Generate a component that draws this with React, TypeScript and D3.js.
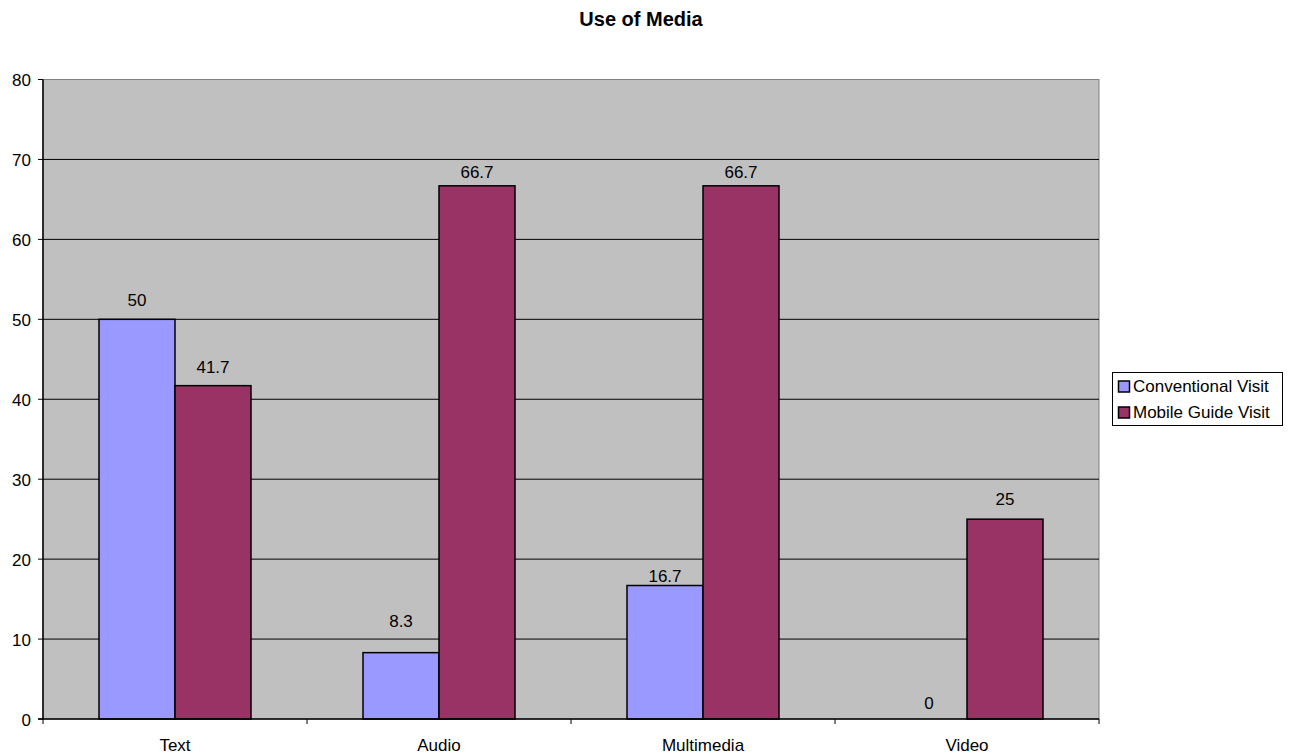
import React from "react";
import * as d3 from "d3";

const categories = ["Text", "Audio", "Multimedia", "Video"];
const seriesNames = ["Conventional Visit", "Mobile Guide Visit"];
const conventional = [50, 8.3, 16.7, 0];
const mobileGuide = [41.7, 66.7, 66.7, 25];
const yTicks = [0, 10, 20, 30, 40, 50, 60, 70, 80];
const colors = ["#9999FF", "#993366"];

export default function App() {
  const W = 1294, H = 755;
  const left = 43, right = 1099, top = 79.5, bottom = 719;
  const x0 = d3.scaleBand().domain(categories).range([left, right]).paddingInner(0).paddingOuter(0);
  const y = d3.scaleLinear().domain([0, 80]).range([bottom, top]);
  const bw = 76;
  const series = [conventional, mobileGuide];
  // label gap above bar top (layout detail, per series/category as in the original)
  const labelGap = [
    [13, 26, 3.5, 10],
    [13, 8, 8, 14],
  ];
  const font = "Liberation Sans, Arial, sans-serif";
  const fs = 17;
  return (
    <svg width={W} height={H} style={{ position: "absolute", left: 0, top: 0 }} fontFamily={font}>
      <text x={641} y={26} textAnchor="middle" fontSize={20} fontWeight="bold">Use of Media</text>
      <rect x={left} y={top} width={right - left} height={bottom - top} fill="#C0C0C0" stroke="#808080" strokeWidth={1} />
      {yTicks.filter(t => t > 0 && t < 80).map(t => (
        <line key={t} x1={left} x2={right} y1={y(t)} y2={y(t)} stroke="#000" strokeWidth={1} />
      ))}
      {categories.map((c, i) => {
        const cx = x0(c)! + x0.bandwidth() / 2;
        return series.map((s, j) => {
          const bx = cx - bw + j * bw;
          const v = s[i];
          return (
            <g key={c + j}>
              {v > 0 && (
                <rect x={bx} y={y(v)} width={bw} height={bottom - y(v)} fill={colors[j]} stroke="#000" strokeWidth={1.5} />
              )}
              <text x={bx + bw / 2} y={y(v) - labelGap[j][i]} textAnchor="middle" fontSize={fs}>{v}</text>
            </g>
          );
        });
      })}
      <line x1={left} x2={left} y1={top} y2={bottom + 0.5} stroke="#000" strokeWidth={1.5} />
      <line x1={left - 5} x2={right} y1={bottom} y2={bottom} stroke="#000" strokeWidth={1.5} />
      {yTicks.map(t => (
        <g key={t}>
          <line x1={left - 5} x2={left} y1={y(t)} y2={y(t)} stroke="#000" strokeWidth={1} />
          <text x={31} y={y(t) + 6.5} textAnchor="end" fontSize={fs}>{t}</text>
        </g>
      ))}
      {[...categories.map(c => x0(c)!), right].map((xv, i) => (
        <line key={i} x1={xv} x2={xv} y1={bottom} y2={bottom + 5} stroke="#000" strokeWidth={1} />
      ))}
      {categories.map(c => (
        <text key={c} x={x0(c)! + x0.bandwidth() / 2} y={751} textAnchor="middle" fontSize={fs}>{c}</text>
      ))}
      <rect x={1112.5} y={372.5} width={170} height={53} fill="#fff" stroke="#000" strokeWidth={1} />
      {seriesNames.map((n, j) => (
        <g key={n}>
          <rect x={1118.5} y={381 + j * 26} width={11} height={11} fill={colors[j]} stroke="#000" strokeWidth={1.5} />
          <text x={1133} y={392 + j * 26} fontSize={fs}>{n}</text>
        </g>
      ))}
    </svg>
  );
}
